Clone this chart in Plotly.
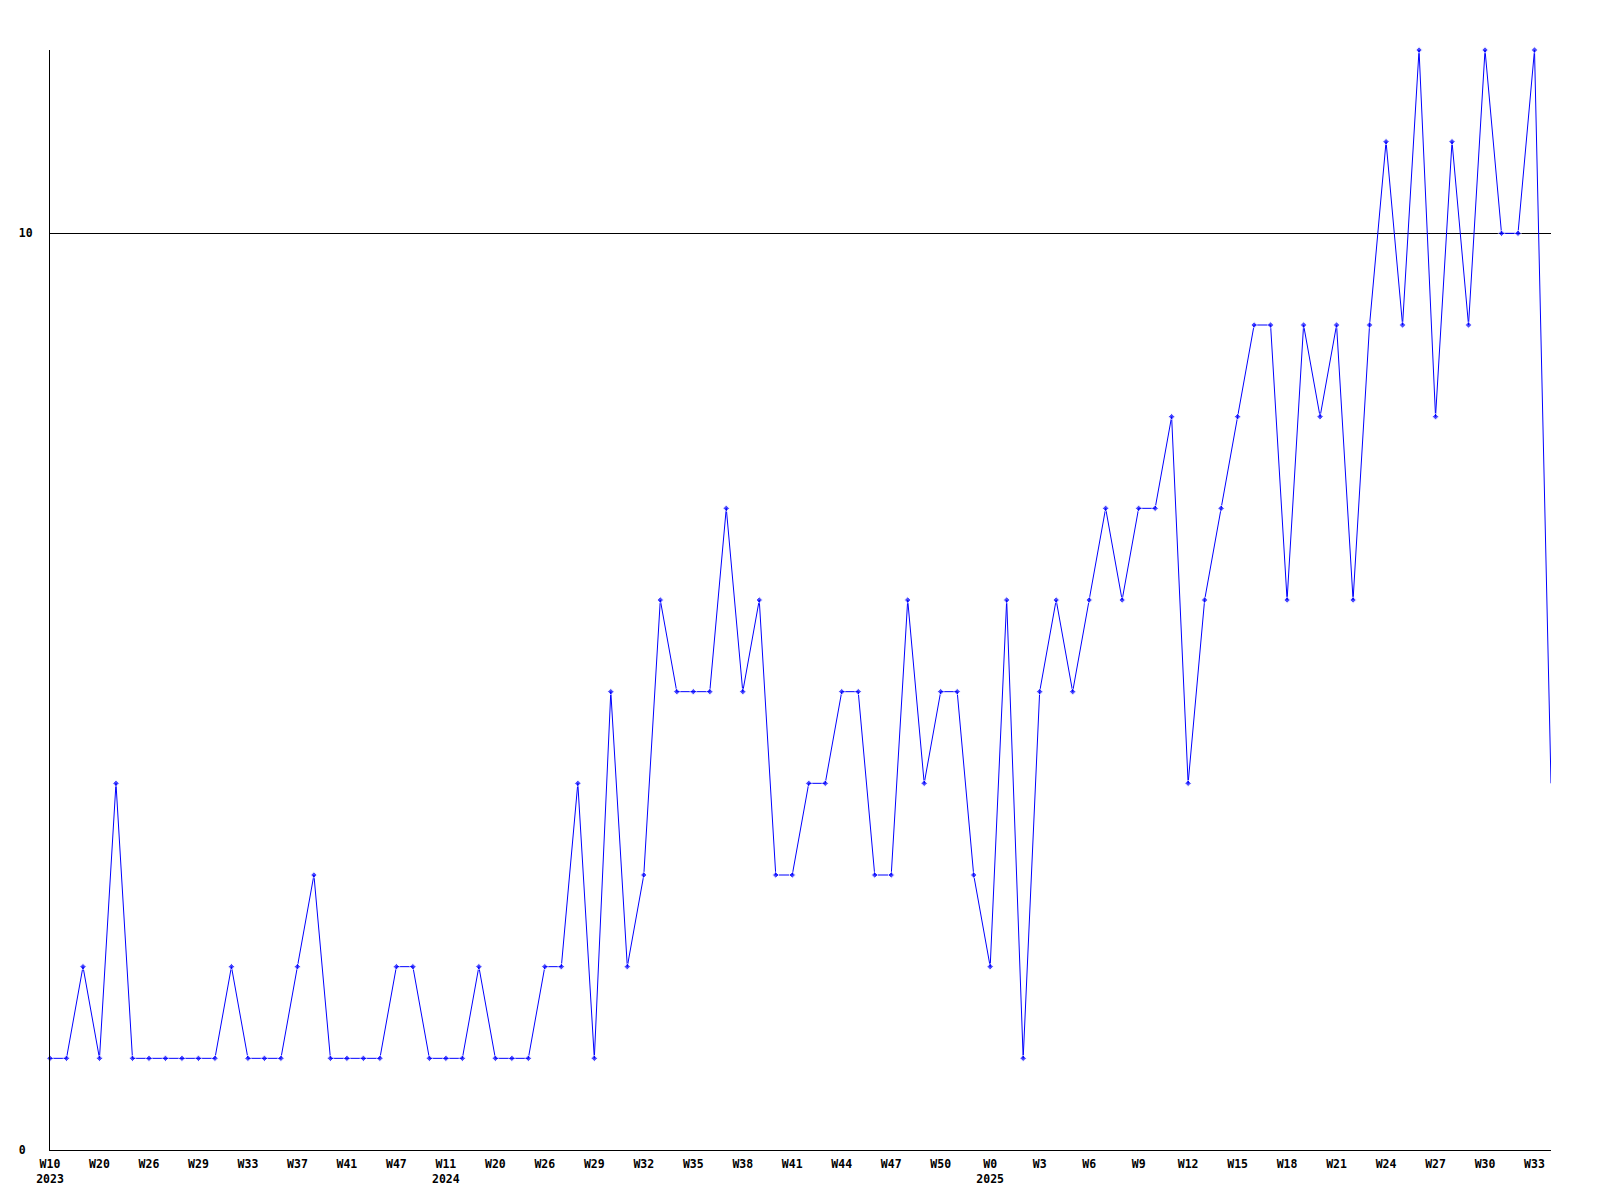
import plotly.graph_objects as go

values = [1, 1, 2, 1, 4, 1, 1, 1, 1, 1, 1, 2, 1, 1, 1, 2, 3, 1, 1, 1,
          1, 2, 2, 1, 1, 1, 2, 1, 1, 1, 2, 2, 4, 1, 5, 2, 3, 6, 5, 5,
          5, 7, 5, 6, 3, 3, 4, 4, 5, 5, 3, 3, 6, 4, 5, 5, 3, 2, 6, 1,
          5, 6, 5, 6, 7, 6, 7, 7, 8, 4, 6, 7, 8, 9, 9, 6, 9, 8, 9, 6,
          9, 11, 9, 12, 8, 11, 9, 12, 10, 10, 12, 4]

tick_labels = ["W10<br>2023", "W20", "W26", "W29", "W33", "W37", "W41", "W47",
               "W11<br>2024", "W20", "W26", "W29", "W32", "W35", "W38", "W41",
               "W44", "W47", "W50", "W0<br>2025", "W3", "W6", "W9", "W12",
               "W15", "W18", "W21", "W24", "W27", "W30", "W33"]

y_ticks = [0, 10]
y_tick_labels = ["0\u00a0", "10"]

x = list(range(len(values)))
tick_positions = x[::3][:len(tick_labels)]

font = dict(family="DejaVu Sans Mono", size=11.5, color="black", weight="bold")

marker_sizes = [5] * (len(values) - 1) + [0]

fig = go.Figure(go.Scatter(
    x=x, y=values, mode="lines+markers",
    line=dict(color="#0000ff", width=1),
    marker=dict(symbol="diamond", size=marker_sizes, color="#0000ff"),
    cliponaxis=False,
))

fig.update_layout(
    width=1592, height=1192,
    margin=dict(l=42, r=49, t=42, b=50),
    paper_bgcolor="white", plot_bgcolor="white",
    showlegend=False,
)
fig.update_xaxes(
    range=[0, len(values) - 1],
    tickvals=tick_positions, ticktext=tick_labels,
    showgrid=False, zeroline=False,
    showline=True, linecolor="black", linewidth=1,
    ticks="", tickfont=font, ticklabelstandoff=3,
)
fig.update_yaxes(
    range=[0, 12],
    tickvals=y_ticks, ticktext=y_tick_labels,
    showgrid=True, gridcolor="black", gridwidth=1,
    zeroline=False,
    showline=True, linecolor="black", linewidth=1,
    ticks="", tickfont=font, ticklabelstandoff=14,
)

fig.write_html("out.html")
